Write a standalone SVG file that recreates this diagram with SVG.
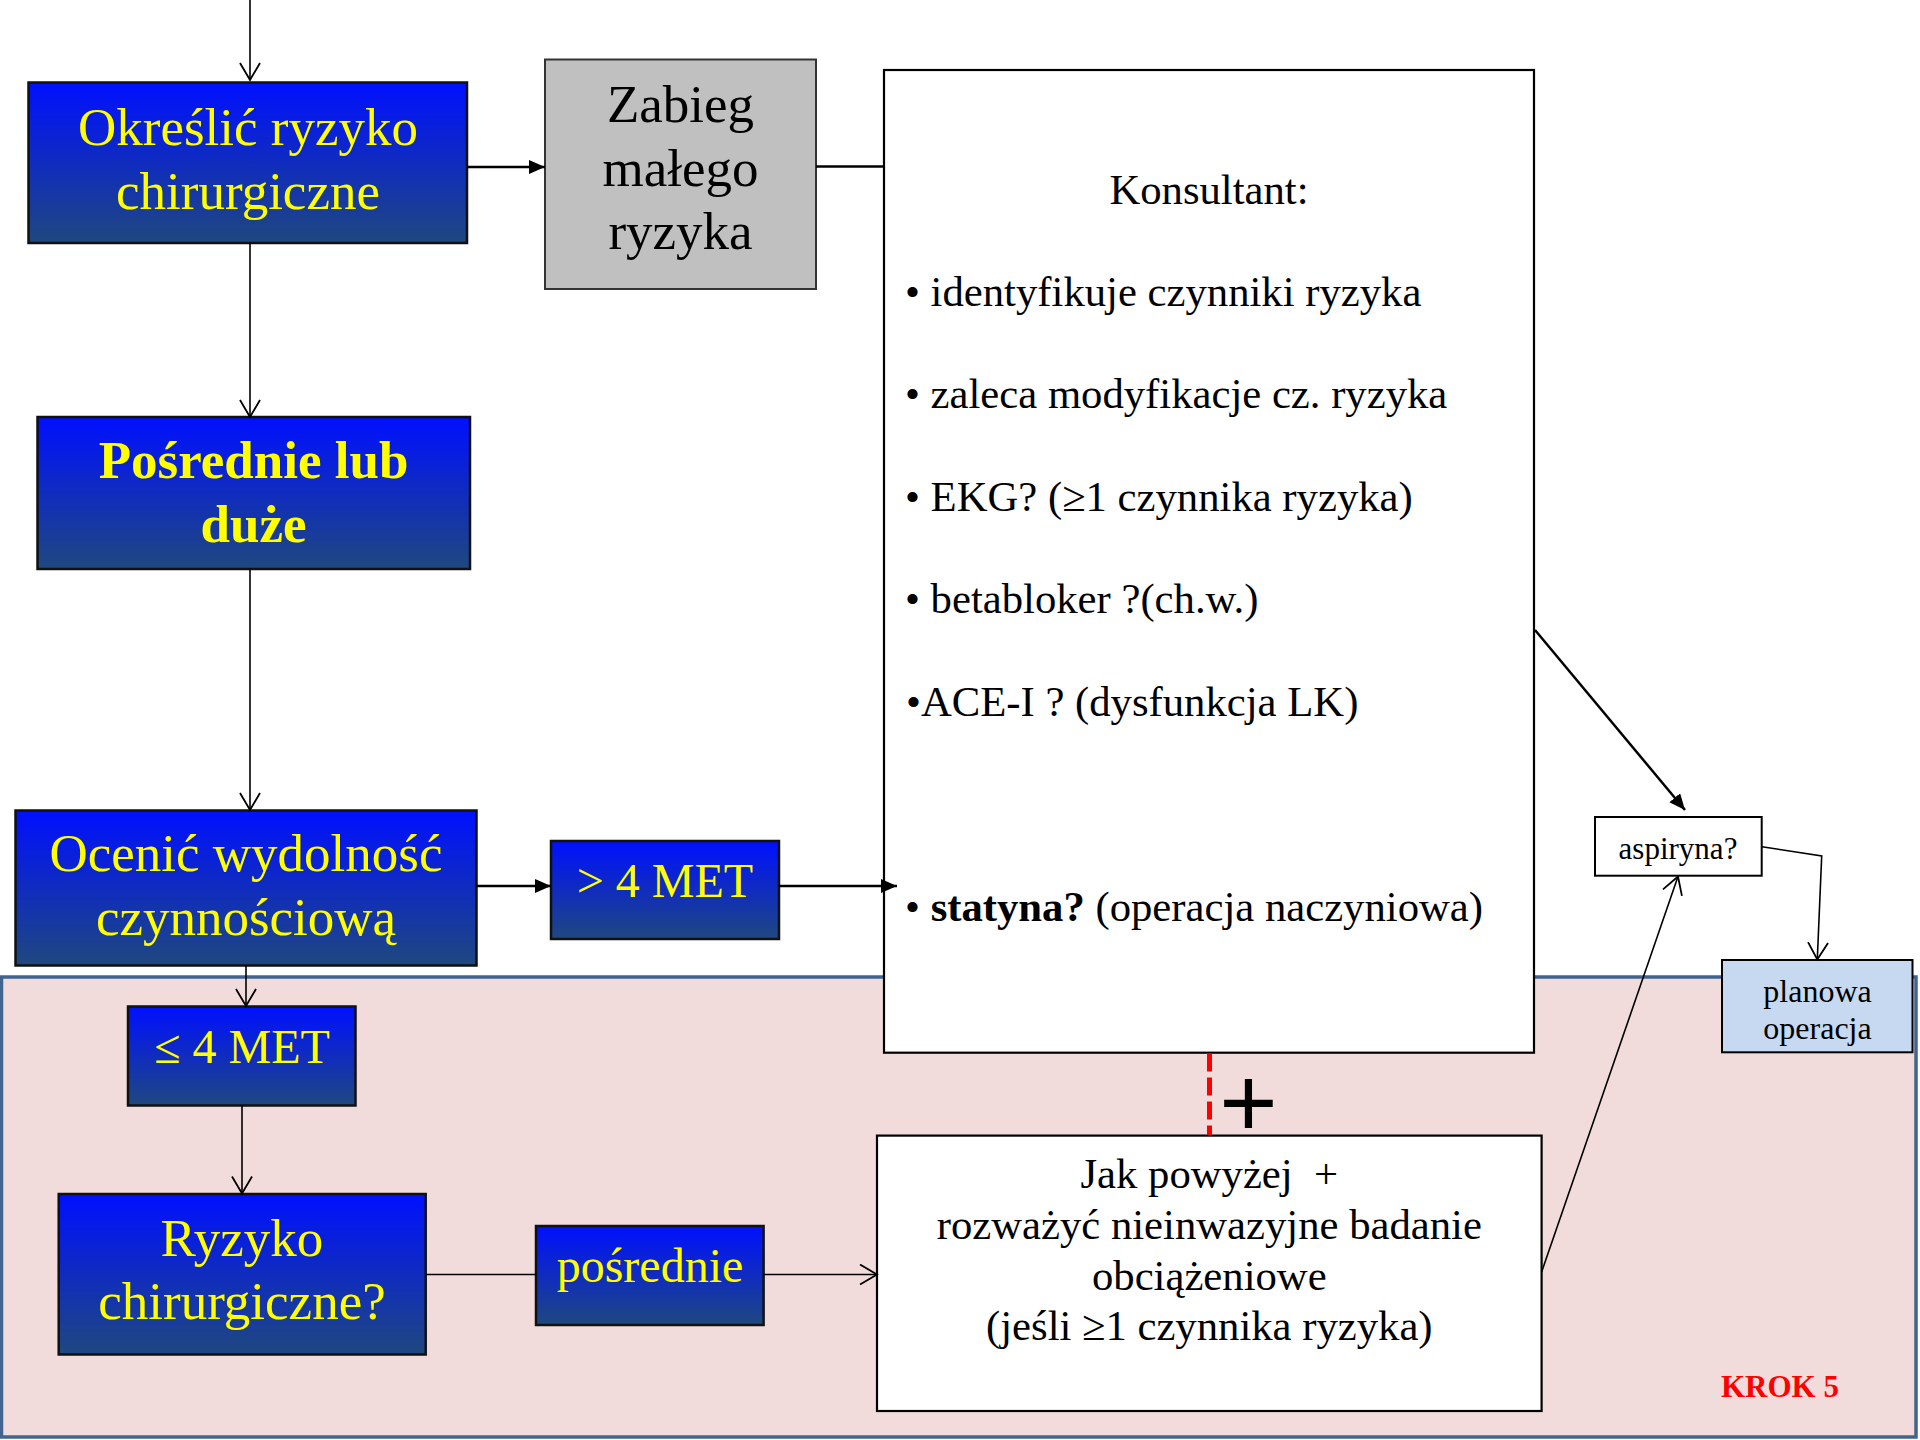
<svg xmlns="http://www.w3.org/2000/svg" width="1920" height="1440" viewBox="0 0 1920 1440">
<defs>
<linearGradient id="blueGrad" x1="0" y1="0" x2="0" y2="1">
<stop offset="0" stop-color="#0010FF"/>
<stop offset="1" stop-color="#1F487E"/>
</linearGradient>
<marker id="openArrow" markerUnits="userSpaceOnUse" markerWidth="22" markerHeight="24" refX="18" refY="11" orient="auto" viewBox="0 0 22 24">
<path d="M1,1 L18,11 L1,21" fill="none" stroke="#000" stroke-width="1.8"/>
</marker>
<marker id="fillArrow" markerUnits="userSpaceOnUse" markerWidth="18" markerHeight="16" refX="16" refY="7" orient="auto" viewBox="0 0 18 16">
<path d="M0,0 L16,7 L0,14 Z" fill="#000"/>
</marker>
<style>
text { font-family: "Liberation Serif", "Times New Roman", serif; }
.blue { fill: url(#blueGrad); stroke: #111; stroke-width: 2.5; }
.ytxt { fill: #FFFF00; text-anchor: middle; }
.big { font-size: 53px; }
.med { font-size: 48px; }
.btxt { fill: #000; font-size: 42.7px; }
.white { fill: #FFFFFF; stroke: #000; stroke-width: 2.2; }
.thin { fill: none; stroke: #000; stroke-width: 1.6; }
.thick { fill: none; stroke: #000; stroke-width: 2.5; }
</style>
</defs>
<rect width="1920" height="1440" fill="#FFFFFF"/>
<g id="region-krok5">
<rect x="1.5" y="977" width="1914.5" height="460" fill="#F2DCDB" stroke="#41648F" stroke-width="3.5"/>
<text x="1721" y="1396.6" font-size="31" font-weight="bold" fill="#FF0000">KROK 5</text>
</g>
<g id="node-okreslic">
<rect class="blue" x="28.5" y="82.5" width="438.5" height="160.5" stroke-width="3"/>
<text class="ytxt big" x="248" y="144.7">Określić ryzyko</text>
<text class="ytxt big" x="248" y="208.6">chirurgiczne</text>
</g>
<g id="node-zabieg">
<rect x="545" y="59.5" width="271" height="229.5" fill="#C0C0C0" stroke="#333" stroke-width="2"/>
<text x="680.5" y="121.7" font-size="53" text-anchor="middle" fill="#000">Zabieg</text>
<text x="680.5" y="185.6" font-size="53" text-anchor="middle" fill="#000">małego</text>
<text x="680.5" y="248.8" font-size="53" text-anchor="middle" fill="#000">ryzyka</text>
</g>
<g id="node-posrednie-duze">
<rect class="blue" x="37.5" y="417" width="432.5" height="152"/>
<text class="ytxt big" x="253.5" y="478" font-weight="bold">Pośrednie lub</text>
<text class="ytxt big" x="253.5" y="541.5" font-weight="bold">duże</text>
</g>
<g id="node-ocenic">
<rect class="blue" x="15.5" y="810.5" width="461" height="155"/>
<text class="ytxt big" x="246" y="870.5">Ocenić wydolność</text>
<text class="ytxt big" x="246" y="935">czynnościową</text>
</g>
<g id="node-gt4met">
<rect class="blue" x="551" y="841" width="228" height="98"/>
<text class="ytxt med" x="665" y="896.6">&gt; 4 MET</text>
</g>
<g id="node-konsultant">
<rect class="white" x="884" y="70" width="650" height="982.7"/>
<text class="btxt" x="1209" y="204" text-anchor="middle">Konsultant:</text>
<text class="btxt" x="905" y="305.5">• identyfikuje czynniki ryzyka</text>
<text class="btxt" x="905" y="408">• zaleca modyfikacje cz. ryzyka</text>
<text class="btxt" x="905" y="510.5">• EKG? (≥1 czynnika ryzyka)</text>
<text class="btxt" x="905" y="613">• betabloker ?(ch.w.)</text>
<text class="btxt" x="906" y="715.5">•ACE-I ? (dysfunkcja LK)</text>
<text class="btxt" x="905" y="920.5">• <tspan font-weight="bold">statyna?</tspan> (operacja naczyniowa)</text>
</g>
<g id="node-le4met">
<rect class="blue" x="128" y="1006.5" width="227.5" height="99"/>
<text class="ytxt med" x="242" y="1063">≤ 4 MET</text>
</g>
<g id="node-ryzyko">
<rect class="blue" x="58.7" y="1194" width="367" height="160.5"/>
<text class="ytxt big" x="242" y="1255.6">Ryzyko</text>
<text class="ytxt big" x="242" y="1318.7">chirurgiczne?</text>
</g>
<g id="node-posrednie">
<rect class="blue" x="536" y="1226" width="227.6" height="99"/>
<text class="ytxt med" x="650" y="1281.7">pośrednie</text>
</g>
<g id="node-jak-powyzej">
<rect class="white" x="877" y="1135.6" width="664.6" height="275.4"/>
<text class="btxt" x="1209.3" y="1188" text-anchor="middle">Jak powyżej&#160; +</text>
<text class="btxt" x="1209.3" y="1239" text-anchor="middle">rozważyć nieinwazyjne badanie</text>
<text class="btxt" x="1209.3" y="1289.5" text-anchor="middle">obciążeniowe</text>
<text class="btxt" x="1209.3" y="1340" text-anchor="middle">(jeśli ≥1 czynnika ryzyka)</text>
</g>
<g id="node-aspiryna">
<rect x="1595" y="817" width="166.7" height="58.7" fill="#FFFFFF" stroke="#000" stroke-width="2"/>
<text x="1678" y="859.3" font-size="31" text-anchor="middle" fill="#000">aspiryna?</text>
</g>
<g id="node-planowa">
<rect x="1722" y="960" width="190.5" height="92.3" fill="#C6D9F1" stroke="#000" stroke-width="2"/>
<text x="1817.5" y="1001.7" font-size="32" text-anchor="middle" fill="#000">planowa</text>
<text x="1817.5" y="1039" font-size="32" text-anchor="middle" fill="#000">operacja</text>
</g>
<g id="plus-sign">
<line x1="1209.5" y1="1053.5" x2="1209.5" y2="1135" stroke="#FF0000" stroke-width="5" stroke-dasharray="18 6"/>
<text x="1248.5" y="1136.5" font-size="100" text-anchor="middle" fill="#000" style="font-family:'Liberation Sans', Arial, sans-serif">+</text>
</g>
<g id="connectors">
<line class="thin" x1="250" y1="0" x2="250" y2="80" marker-end="url(#openArrow)"/>
<line class="thin" x1="250" y1="243" x2="250" y2="417" marker-end="url(#openArrow)"/>
<line class="thin" x1="250" y1="569" x2="250" y2="810" marker-end="url(#openArrow)"/>
<line class="thin" x1="246" y1="966" x2="246" y2="1006" marker-end="url(#openArrow)"/>
<line class="thin" x1="242" y1="1105.5" x2="242" y2="1193.5" marker-end="url(#openArrow)"/>
<line class="thick" x1="467" y1="167" x2="545" y2="167" marker-end="url(#fillArrow)"/>
<line class="thick" x1="816" y1="166.5" x2="884" y2="166.5"/>
<line class="thick" x1="476.5" y1="886" x2="551" y2="886" marker-end="url(#fillArrow)"/>
<line class="thick" x1="779" y1="886" x2="897" y2="886" marker-end="url(#fillArrow)"/>
<line class="thick" x1="1535" y1="630" x2="1685" y2="810" marker-end="url(#fillArrow)"/>
<line class="thin" x1="425.7" y1="1274.5" x2="536" y2="1274.5"/>
<line class="thin" x1="763.6" y1="1274.5" x2="877" y2="1274.5" marker-end="url(#openArrow)"/>
<line class="thin" x1="1541.6" y1="1272" x2="1678" y2="876.5" marker-end="url(#openArrow)"/>
<polyline class="thin" points="1762,846.7 1821.7,856 1817.3,959.5" marker-end="url(#openArrow)"/>
</g>
</svg>
